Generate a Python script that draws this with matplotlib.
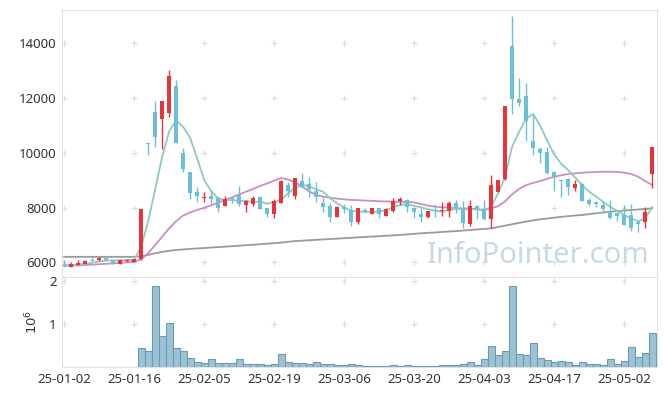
import numpy as np
import pandas as pd
import matplotlib.pyplot as plt

# trading days (KRX calendar, holidays removed)
holidays = ['2025-01-27', '2025-01-28', '2025-01-29', '2025-01-30', '2025-03-03',
            '2025-05-01', '2025-05-05', '2025-05-06']
dates = pd.bdate_range('2025-01-02', '2025-05-12', freq='C', holidays=holidays)

# OHLC
opens = [5910, 5840, 5910, 5950, 6080, 6080, 6150, 6070, 5950, 6040,
         6020, 6110, 10350, 11500, 11220, 11460, 12440, 10000, 9300, 8560,
         8340, 8430, 8340, 8070, 8330, 8450, 8100, 8130, 8400, 7980,
         7780, 8180, 8820, 8420, 8970, 8860, 8600, 8180, 8060, 7670,
         8030, 7910, 7480, 7910, 7770, 7970, 7700, 7890, 8240, 8280,
         7970, 7780, 7640, 7900, 7860, 7890, 8150, 7910, 7400, 8060,
         7940, 7580, 8580, 9040, 13900, 11980, 12070, 10430, 10140, 10040,
         9310, 9000, 9040, 8700, 8860, 8280, 8200, 8090, 7790, 7790,
         7730, 7730, 7480, 7480, 9230]
closes = [5850, 5940, 5990, 6050, 6060, 6150, 6080, 5950, 6070, 6100,
          6110, 7950, 10330, 10590, 11890, 12800, 10370, 9400, 8520, 8430,
          8360, 8310, 8000, 8310, 8300, 8140, 8230, 8340, 7960, 7780,
          8240, 8980, 8620, 9070, 8760, 8680, 8400, 8030, 7670, 8030,
          7940, 7480, 7970, 7880, 7970, 7770, 7940, 8240, 8310, 8030,
          7850, 7640, 7880, 7860, 7900, 8150, 7970, 7420, 8060, 7940,
          7580, 8820, 9010, 11710, 11950, 11830, 11170, 10190, 10000, 9270,
          9150, 8960, 8760, 8860, 8250, 8130, 8130, 7940, 7620, 7700,
          7360, 7240, 7400, 7830, 10200]
highs = [6080, 6010, 6080, 6070, 6190, 6180, 6160, 6080, 6080, 6130,
         6120, 7950, 10360, 11890, 11890, 13020, 12660, 10160, 9300, 8760,
         8560, 8630, 8380, 8420, 8350, 8780, 8280, 8410, 8400, 7990,
         8320, 8990, 8940, 9070, 9250, 9100, 8940, 8400, 8160, 8060,
         8120, 8090, 7980, 7970, 7990, 7980, 7990, 8340, 8400, 8300,
         7990, 7970, 7890, 8130, 8210, 8240, 8280, 8240, 8280, 8090,
         8280, 9190, 9010, 11710, 15000, 12720, 12540, 11380, 10220, 10220,
         9320, 9010, 9070, 9010, 8900, 8340, 8240, 8250, 8280, 7840,
         8090, 8130, 7550, 8010, 10200]
lows = [5840, 5830, 5900, 5940, 6040, 6060, 6070, 5940, 5940, 6020,
        6010, 6080, 9920, 10220, 10130, 11300, 10350, 9310, 8300, 8190,
        8200, 8130, 7850, 8060, 8160, 8060, 7830, 8060, 7950, 7670,
        7630, 8150, 8400, 8300, 8700, 8400, 8210, 7830, 7460, 7650,
        7790, 7340, 7390, 7810, 7750, 7610, 7680, 7850, 8090, 7850,
        7610, 7480, 7610, 7670, 7690, 7640, 7790, 7260, 7330, 7570,
        7550, 7260, 8560, 9000, 11420, 11710, 10440, 9920, 9620, 9230,
        8620, 8400, 8460, 8620, 8240, 8060, 8030, 7850, 7570, 7520,
        7360, 7160, 7120, 7240, 8700]
volume = [0, 0, 0, 0, 0, 0, 0, 0, 0, 0,
          0, 0.44, 0.37, 1.89, 0.72, 1.02, 0.44, 0.37, 0.20, 0.11,
          0.09, 0.18, 0.09, 0.09, 0.09, 0.18, 0.06, 0.06, 0.06, 0.04,
          0.06, 0.30, 0.11, 0.09, 0.09, 0.06, 0.11, 0.06, 0.06, 0.04,
          0.04, 0.06, 0.04, 0.02, 0.02, 0.02, 0.02, 0.04, 0.02, 0.04,
          0.02, 0.02, 0.02, 0.02, 0.04, 0.04, 0.04, 0.06, 0.11, 0.04,
          0.18, 0.48, 0.27, 0.37, 1.89, 0.30, 0.27, 0.55, 0.20, 0.16,
          0.11, 0.13, 0.11, 0.04, 0.11, 0.06, 0.06, 0.04, 0.18, 0.06,
          0.13, 0.46, 0.23, 0.32, 0.79]  # millions

# moving averages as drawn (5 / 20 / 60 day)
ma5 = [5900, 5900, 5920, 5950, 5980, 6030, 6060, 6070, 6075, 6080,
       6090, 6550, 7500, 8650, 9850, 10770, 11190, 10950, 10550, 9800,
       9020, 8600, 8340, 8276, 8276, 8240, 8240, 8200, 8220, 8140,
       8200, 8290, 8520, 8730, 8824, 8787, 8666, 8579, 8338, 8155,
       8009, 7885, 7848, 7848, 7848, 7848, 7910, 8009, 8093, 8130,
       8057, 8009, 7936, 7885, 7848, 7910, 7958, 7936, 7936, 7936,
       7885, 8031, 8520, 9127, 10223, 10771, 11250, 11420, 11000, 10450,
       9950, 9600, 9370, 9100, 8820, 8580, 8400, 8210, 8030, 7880,
       7730, 7600, 7500, 7600, 8010]
ma20 = [5870, 5880, 5890, 5900, 5915, 5930, 5945, 5960, 5980, 6000,
        6020, 6110, 6330, 6630, 6930, 7240, 7500, 7710, 7820, 7910,
        7990, 8080, 8180, 8276, 8374, 8480, 8580, 8680, 8790, 8880,
        8980, 9080, 9020, 8930, 8770, 8590, 8460, 8400, 8360, 8325,
        8300, 8280, 8270, 8255, 8245, 8230, 8225, 8215, 8210, 8205,
        8190, 8130, 8070, 8030, 8010, 8000, 7975, 7970, 7965, 7940,
        7910, 7970, 8050, 8230, 8480, 8680, 8820, 8900, 8970, 9050,
        9125, 9180, 9225, 9250, 9275, 9285, 9300, 9310, 9310, 9300,
        9275, 9226, 9127, 8970, 8824]
ma60 = [6200, 6200, 6200, 6200, 6200, 6200, 6200, 6200, 6200, 6200,
        6200, 6220, 6270, 6330, 6380, 6420, 6450, 6470, 6490, 6505,
        6520, 6540, 6555, 6570, 6590, 6605, 6625, 6640, 6660, 6680,
        6700, 6720, 6750, 6775, 6790, 6805, 6820, 6835, 6850, 6865,
        6880, 6895, 6910, 6925, 6940, 6955, 6970, 6985, 7000, 7020,
        7040, 7060, 7075, 7090, 7110, 7125, 7140, 7160, 7180, 7200,
        7220, 7240, 7290, 7340, 7390, 7440, 7490, 7530, 7570, 7600,
        7630, 7660, 7685, 7710, 7730, 7760, 7790, 7820, 7845, 7870,
        7890, 7910, 7930, 7950, 7970]

plt.rcParams['font.family'] = ['Noto Sans', 'DejaVu Sans']

UP = '#e8333b'
DOWN = '#6bbfd9'
GRID = '#dcdcdc'
TXT = '#333333'

o = np.array(opens)
c = np.array(closes)
h = np.array(highs)
l = np.array(lows)
x = np.arange(len(dates))
up = c >= o
col = np.where(up, UP, DOWN)

fig = plt.figure(figsize=(6.65, 3.96), dpi=100)
ax = fig.add_axes([62 / 665, 1 - 277 / 396, 595 / 665, 267 / 396])
axv = fig.add_axes([62 / 665, 1 - 367 / 396, 595 / 665, 90 / 396], sharex=ax)

# moving averages
ax.plot(x, ma60, color='#9a9a9a', lw=1.3, zorder=2)
ax.plot(x, ma20, color='#cc8cc6', lw=1.3, zorder=2)
ax.plot(x, ma5, color='#8ccbc0', lw=1.3, zorder=2)

# candles
ax.vlines(x, l, h, colors=col, lw=1, zorder=3)
body_h = np.maximum(np.abs(c - o), 35)
ax.bar(x, body_h, bottom=np.minimum(o, c), width=0.62, color=col, zorder=4)

ax.text(0.80, 0.08, 'InfoPointer.com', transform=ax.transAxes, fontsize=21,
        color='#c6d9e5', ha='center', va='center', zorder=1)

# volume
axv.bar(x, volume, width=1.0, color='#9cc2d3', edgecolor='#6a9db5', lw=0.8, zorder=3)

xt = np.arange(0, len(dates), 10)
ax.set_xlim(-0.3, 84.7)
ax.set_ylim(5463, 15217)
axv.set_ylim(0, 2.1)
ax.set_yticks([6000, 8000, 10000, 12000, 14000])
axv.set_yticks([1, 2])
axv.set_xticks(xt)
axv.set_xticklabels([d.strftime('%y-%m-%d') for d in dates[xt]])
axv.set_ylabel('$10^6$', color=TXT, fontsize=9.5, labelpad=6)

for a, yt in ((ax, [6000, 8000, 10000, 12000, 14000]), (axv, [1, 2])):
    gx, gy = np.meshgrid(xt, yt)
    a.scatter(gx.ravel(), gy.ravel(), marker='+', s=18, color=GRID, lw=0.8, zorder=0)
    for s in a.spines.values():
        s.set_color('#e2e2e2')
    a.tick_params(length=0, labelsize=9.5, labelcolor=TXT, pad=4)
plt.setp(ax.get_xticklabels(), visible=False)

fig.savefig('out.png', dpi=100)
